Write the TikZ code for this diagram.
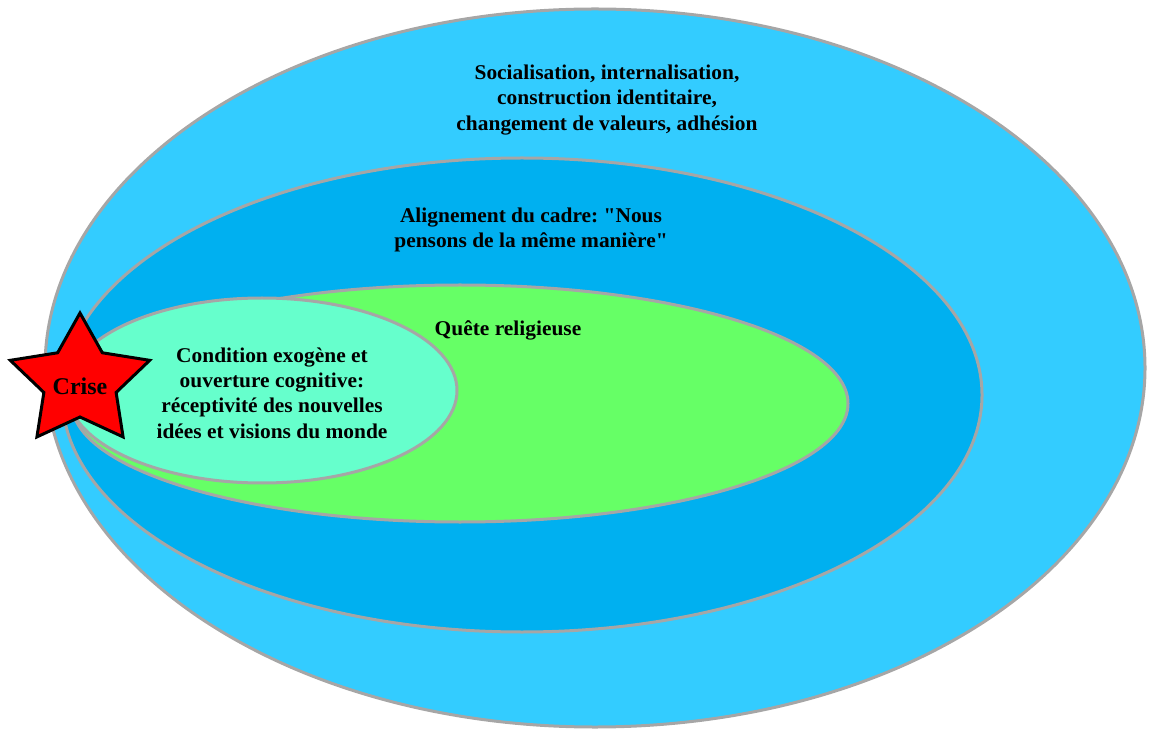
\documentclass[tikz,border=0pt]{standalone}
\usepackage{fontspec}
\setmainfont{Liberation Serif}
\newfontfamily\labelfont{Liberation Serif}[FakeStretch=1.02]
\usetikzlibrary{shapes.geometric}
\definecolor{skyouter}{HTML}{33CCFF}
\definecolor{skyinner}{HTML}{00B0F0}
\definecolor{questgreen}{HTML}{66FF66}
\definecolor{condmint}{HTML}{66FFCC}
\definecolor{rimgrey}{HTML}{A6A6A6}
\frenchspacing
\begin{document}
\begin{tikzpicture}[x=0.5pt,y=-0.5pt,
    zone/.style={ellipse,draw=rimgrey,line width=1.5pt,inner sep=0pt},
    lbl/.style={align=center,font=\labelfont\bfseries\fontsize{10.5}{12.65}\selectfont}]
    \useasboundingbox (0,0) rectangle (1149,731);

    % nested zones
    \node[zone,fill=skyouter,minimum width=550pt,minimum height=359pt] (socia) at (595,368) {};
    \node[zone,fill=skyinner,minimum width=460pt,minimum height=237pt] (cadre) at (522,395) {};
    \node[zone,fill=questgreen,minimum width=388pt,minimum height=118.5pt] (quest) at (460,403.5) {};
    \node[zone,fill=condmint,minimum width=195pt,minimum height=92.5pt] (cond) at (262,390.5) {};

    % texts
    \node[lbl] (sociatext) at (607,100) {Socialisation, internalisation,\\construction identitaire,\\changement de valeurs, adhésion};
    \node[lbl] (cadretext) at (531,230) {Alignement du cadre: "Nous\\pensons de la même manière"};
    \node[lbl] (questtext) at (508,330) {Quête religieuse};
    \node[lbl] (condtext) at (272,393) {Condition exogène et\\ouverture cognitive:\\réceptivité des nouvelles\\idées et visions du monde};

    % crisis star
    \node[star,star points=5,star point ratio=1.93,minimum size=68.5pt,inner sep=0pt,xscale=1.07,
          fill=red,draw=black,line width=1.5pt] (crise) at (80,381.5) {};
    \node[font=\bfseries\fontsize{12}{14}\selectfont] (crisetext) at (80,386) {Crise};
\end{tikzpicture}
\end{document}
